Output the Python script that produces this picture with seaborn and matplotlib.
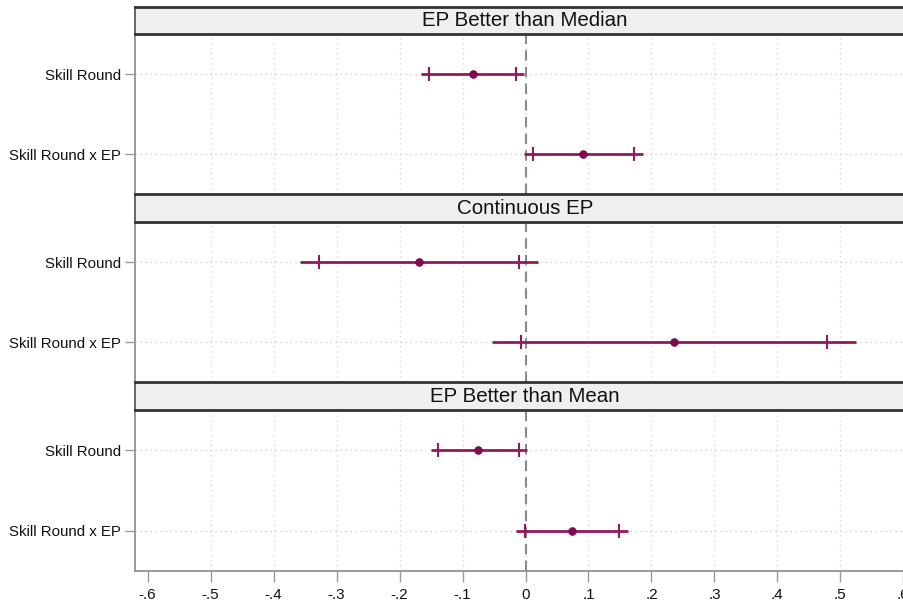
import numpy as np
import pandas as pd
import matplotlib
matplotlib.use('Agg')
import matplotlib.pyplot as plt
import seaborn as sns

PANELS = ['EP Better than Median', 'Continuous EP', 'EP Better than Mean']
TERMS = ['Skill Round', 'Skill Round x EP']

# point estimates, inner CI (tick marks) and outer CI (line ends), per panel
COEF     = [[-0.084, 0.092], [-0.169, 0.236], [-0.075, 0.074]]
INNER_LO = [[-0.153, 0.012], [-0.328, -0.007], [-0.139, -0.001]]
INNER_HI = [[-0.015, 0.173], [-0.010, 0.479], [-0.011, 0.148]]
OUTER_LO = [[-0.166, -0.002], [-0.358, -0.053], [-0.150, -0.015]]
OUTER_HI = [[-0.002, 0.187], [0.020, 0.525], [0.002, 0.163]]

XTICKS = [-0.6, -0.5, -0.4, -0.3, -0.2, -0.1, 0, 0.1, 0.2, 0.3, 0.4, 0.5, 0.6]
XTICKLABELS = ['-.6', '-.5', '-.4', '-.3', '-.2', '-.1', '0', '.1', '.2', '.3',
               '.4', '.5', '.6']

LINE_COL = '#94185f'
DOT_COL = '#7f0a4d'

sns.set_theme(style='white')
plt.rcParams['font.family'] = ['Liberation Sans', 'DejaVu Sans']

rows = []
for p, panel in enumerate(PANELS):
    for t, term in enumerate(TERMS):
        rows.append({'panel': panel, 'term': term, 'pos': t + 1,
                     'coef': COEF[p][t],
                     'in_lo': INNER_LO[p][t], 'in_hi': INNER_HI[p][t],
                     'out_lo': OUTER_LO[p][t], 'out_hi': OUTER_HI[p][t]})
df = pd.DataFrame(rows)

W, H = 904, 604
fig = plt.figure(figsize=(W / 100, H / 100), dpi=100)

left, right = 135, 916
strips = [(7, 34), (194, 222), (382, 410)]
plots = [(34, 194), (222, 382), (410, 571)]


def fig_rect(top, bottom):
    return [left / W, 1 - bottom / H, (right - left) / W, (bottom - top) / H]


xlim = (-0.62, 0.62)
grid_x = [x for x in XTICKS if abs(x) < 0.55]

for i, panel in enumerate(PANELS):
    sub = df[df['panel'] == panel]

    ax = fig.add_axes(fig_rect(*plots[i]))
    ax.set_xlim(*xlim)
    ax.set_ylim(2.5, 0.5)

    for gx in grid_x:
        ax.axvline(gx, color='#d4d4d4', lw=0.9, ls=(0, (1, 3)), zorder=0)
    for yp in sub['pos']:
        ax.axhline(yp, color='#c8c8c8', lw=0.9, ls=(0, (1, 3)), zorder=0)
    ax.axvline(0, color='#8a8a8a', lw=1.5, ls=(0, (5, 3)), zorder=1)

    ax.hlines(sub['pos'], sub['out_lo'], sub['out_hi'], color=LINE_COL,
              lw=2.0, zorder=2)
    ticks = pd.concat([sub[['pos', 'in_lo']].rename(columns={'in_lo': 'x'}),
                       sub[['pos', 'in_hi']].rename(columns={'in_hi': 'x'})])
    sns.scatterplot(data=ticks, x='x', y='pos', marker='|', s=110,
                    color=LINE_COL, linewidth=1.5, ax=ax, zorder=3)
    sns.scatterplot(data=sub, x='coef', y='pos', marker='o', s=32,
                    color=DOT_COL, edgecolor=DOT_COL, ax=ax, zorder=4)

    ax.set_xlabel('')
    ax.set_ylabel('')
    ax.set_yticks([1, 2])
    ax.set_yticklabels(TERMS, fontsize=10.8, color='#111111')
    ax.tick_params(axis='y', length=7, width=1.0, color='#999999', pad=3,
                   left=True)
    for s in ['top', 'right', 'bottom']:
        ax.spines[s].set_visible(False)
    ax.spines['left'].set_color('#999999')
    ax.spines['left'].set_linewidth(1.4)

    if i == len(PANELS) - 1:
        ax.spines['bottom'].set_visible(True)
        ax.spines['bottom'].set_color('#999999')
        ax.spines['bottom'].set_linewidth(1.4)
        ax.set_xticks(XTICKS)
        ax.set_xticklabels(XTICKLABELS, fontsize=11, color='#111111')
        ax.tick_params(axis='x', length=8, width=1.0, color='#999999', pad=4,
                       bottom=True)
    else:
        ax.set_xticks([])

    sax = fig.add_axes(fig_rect(*strips[i]))
    sax.set_facecolor('#efefef')
    sax.set_xticks([])
    sax.set_yticks([])
    for s in ['left', 'right']:
        sax.spines[s].set_visible(False)
    for s in ['top', 'bottom']:
        sax.spines[s].set_color('#333333')
        sax.spines[s].set_linewidth(2.0)
    sax.text((525 - left) / (right - left), 0.5, panel, transform=sax.transAxes,
             ha='center', va='center', fontsize=14.8, color='#111111')
    sax.plot([0, 0], [0, 1], transform=sax.transAxes, color='#666666',
             lw=1.4, clip_on=False)

fig.savefig('out.png', dpi=100)
